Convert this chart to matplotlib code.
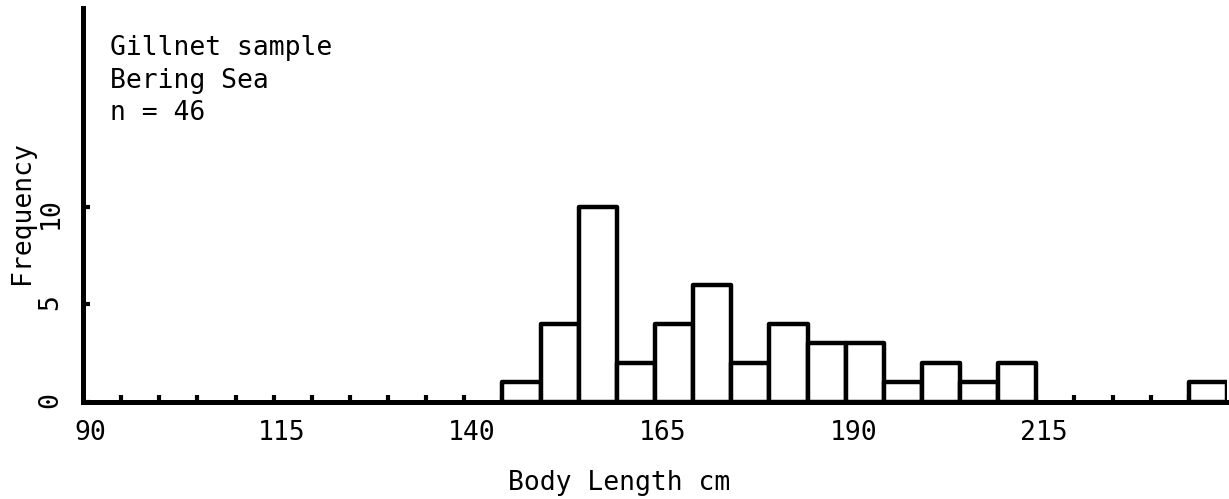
import numpy as np
import matplotlib

matplotlib.use("Agg")
import matplotlib.pyplot as plt

# body length classes (left edge of each 5 cm bin) and counts
bin_left = [89, 94, 99, 104, 109, 114, 119, 124, 129, 134, 139,
            144, 149, 154, 159, 164, 169, 174, 179, 184, 189,
            194, 199, 204, 209, 214, 219, 224, 229, 234]
counts = [0, 0, 0, 0, 0, 0, 0, 0, 0, 0, 0,
          1, 4, 10, 2, 4, 6, 2, 4, 3, 3,
          1, 2, 1, 2, 0, 0, 0, 0, 1]
bin_width = 5

x_ticks = [90, 115, 140, 165, 190, 215]
y_ticks = [0, 5, 10]
note_lines = ["Gillnet sample", "Bering Sea", "n = 46"]

plt.rcParams["font.family"] = ["DejaVu Sans Mono"]
plt.rcParams["font.size"] = 19

W, H = 1229, 499
fig = plt.figure(figsize=(W / 100, H / 100), dpi=100)
fig.patch.set_facecolor("white")
ax = fig.add_axes([83 / W, 97 / H, (1227 - 83) / W, (491 - 97) / H])

lefts = [b for b, c in zip(bin_left, counts) if c > 0]
heights = [c for c in counts if c > 0]
ax.bar(lefts, heights, width=bin_width, align="edge",
       facecolor="white", edgecolor="black", linewidth=3.2,
       joinstyle="round", zorder=2)

ax.set_xlim(bin_left[0], bin_left[-1] + bin_width)
ax.set_ylim(0, 20.2)

for side in ("top", "right"):
    ax.spines[side].set_visible(False)
for side in ("left", "bottom"):
    ax.spines[side].set_linewidth(3.6)
    ax.spines[side].set_zorder(3)

ax.set_xticks(x_ticks)
ax.set_xticklabels([str(t) for t in x_ticks])
ax.set_xticks(bin_left[1:], minor=True)
ax.tick_params(axis="x", which="major", length=0, pad=13)
ax.tick_params(axis="x", which="minor", direction="in", length=5, width=3)

ax.set_yticks(y_ticks)
ax.set_yticklabels([str(t) for t in y_ticks])
ax.tick_params(axis="y", direction="in", length=5, width=3,
               labelrotation=90, pad=14)

fig.text(22 / W, 1 - 213 / H, "Frequency", rotation=90,
         ha="center", va="center")
fig.text(619 / W, 1 - 490 / H, "Body Length cm", ha="center", va="baseline")

for i, line in enumerate(note_lines):
    fig.text(110 / W, 1 - (55 + 32.5 * i) / H, line, ha="left", va="baseline")

fig.savefig("out.png", dpi=100)
